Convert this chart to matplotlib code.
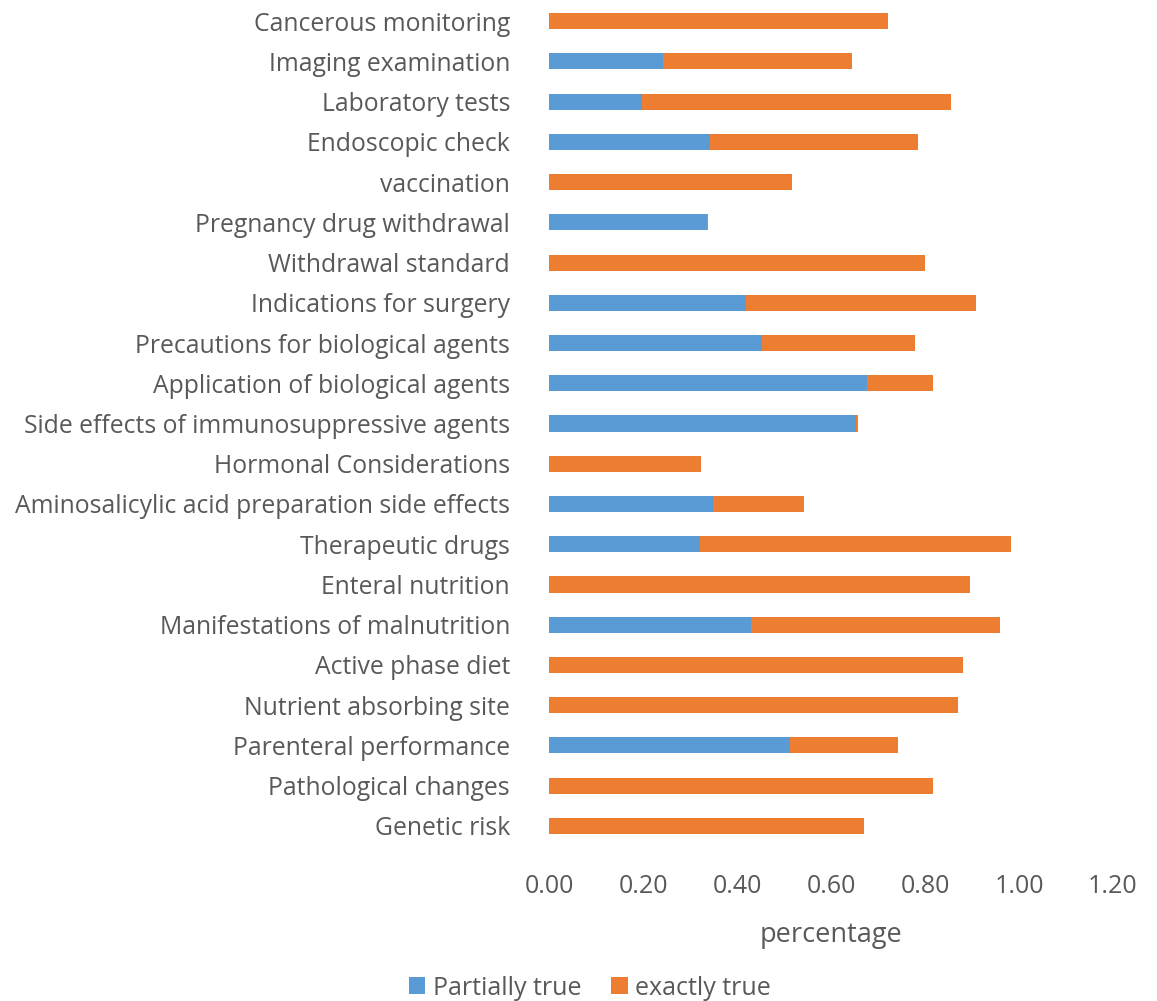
import matplotlib.pyplot as plt

categories = ["Cancerous monitoring", "Imaging examination", "Laboratory tests",
              "Endoscopic check", "vaccination", "Pregnancy drug withdrawal",
              "Withdrawal standard", "Indications for surgery",
              "Precautions for biological agents", "Application of biological agents",
              "Side effects of immunosuppressive agents", "Hormonal Considerations",
              "Aminosalicylic acid preparation side effects", "Therapeutic drugs",
              "Enteral nutrition", "Manifestations of malnutrition", "Active phase diet",
              "Nutrient absorbing site", "Parenteral performance",
              "Pathological changes", "Genetic risk"]
partially_true = [0.0, 0.243, 0.198, 0.343, 0.0, 0.336, 0.0, 0.419, 0.454, 0.677,
                  0.654, 0.0, 0.349, 0.322, 0.0, 0.429, 0.0, 0.0, 0.513, 0.0, 0.0]
exactly_true = [0.721, 0.402, 0.657, 0.442, 0.517, 0.003, 0.800, 0.490, 0.325, 0.141,
                0.003, 0.324, 0.193, 0.661, 0.895, 0.531, 0.880, 0.871, 0.230, 0.816, 0.671]
xticks = [0.0, 0.2, 0.4, 0.6, 0.8, 1.0, 1.2]

blue = "#5B9BD5"
orange = "#ED7D31"
gray = "#595959"

plt.rcParams['font.family'] = ['Open Sans', 'DejaVu Sans']

fig = plt.figure(figsize=(11.57, 10.01), dpi=100)
ax = fig.add_axes([549/1157, 1 - 846/1001, (1113 - 549)/1157, 845/1001])

y = list(range(len(categories)))
ax.barh(y, partially_true, height=0.4, color=blue, label="Partially true")
ax.barh(y, exactly_true, left=partially_true, height=0.4, color=orange, label="exactly true")

ax.set_ylim(len(categories) - 0.5, -0.5)
ax.set_xlim(0, 1.2)
ax.set_yticks(y)
ax.set_yticklabels(categories, fontsize=17.8, color=gray)
ax.set_xticks(xticks)
ax.set_xticklabels(["%.2f" % t for t in xticks], fontsize=18, color=gray)
ax.tick_params(axis='y', length=0, pad=28)
ax.tick_params(axis='x', length=0, pad=20)
for s in ax.spines.values():
    s.set_visible(False)
ax.set_xlabel("percentage", fontsize=19.5, color=gray, labelpad=16)

fig.legend(loc="lower center", bbox_to_anchor=(0.51, -0.022), ncol=2, frameon=False,
           fontsize=18, labelcolor=gray, handlelength=0.65, handleheight=0.65,
           columnspacing=1.2, handletextpad=0.3)

fig.savefig("out.png", dpi=100)
